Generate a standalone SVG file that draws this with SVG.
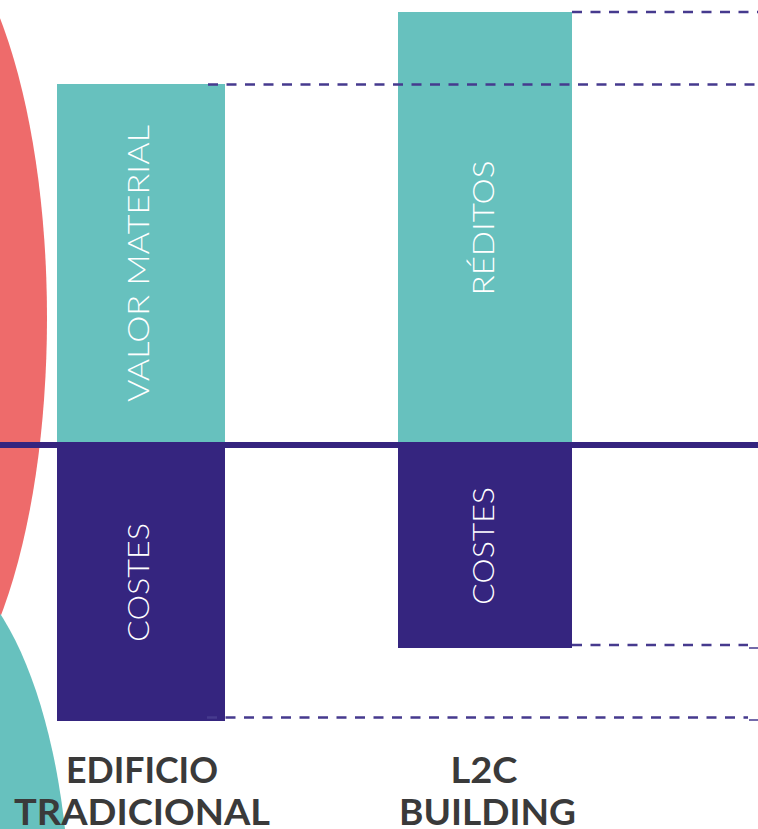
<svg xmlns="http://www.w3.org/2000/svg" width="758" height="829" viewBox="0 0 758 829">
<style>
.teal{fill:#67c1be}
.dark{fill:#35257f}
.dash{stroke:#463a8e;stroke-width:2.6;stroke-dasharray:10 8.5;fill:none}
.barlbl{font-family:Lato,"Open Sans",sans-serif;font-weight:300;font-size:29px;fill:#ffffff;text-anchor:middle}
.title{font-family:Lato,"Noto Sans",sans-serif;font-weight:700;font-size:36px;fill:#3a3a3a;text-anchor:middle}
</style>
<rect width="758" height="829" fill="#ffffff"/>
<g id="decor">
<ellipse cx="-100" cy="318" rx="147" ry="409" fill="#ee6b6b"/>
<ellipse cx="-80" cy="923" rx="150" ry="366" fill="#67c1be"/>
</g>
<g id="edificio-tradicional">
<rect id="valor-material" class="teal" x="57" y="84" width="168" height="360"/>
<rect id="costes-1" class="dark" x="57" y="442" width="168" height="279"/>
<text class="barlbl" transform="translate(149,263.5) rotate(-90)" textLength="277" lengthAdjust="spacingAndGlyphs">VALOR MATERIAL</text>
<text class="barlbl" transform="translate(149,582.5) rotate(-90)" textLength="119" lengthAdjust="spacingAndGlyphs">COSTES</text>
<text class="title" x="142" y="783" textLength="152" lengthAdjust="spacingAndGlyphs">EDIFICIO</text>
<text class="title" x="142" y="825" textLength="256" lengthAdjust="spacingAndGlyphs">TRADICIONAL</text>
</g>
<g id="l2c-building">
<rect id="reditos" class="teal" x="398" y="12" width="174" height="434"/>
<rect id="costes-2" class="dark" x="398" y="443" width="174" height="205"/>
<text class="barlbl" transform="translate(494,228) rotate(-90)" textLength="135" lengthAdjust="spacingAndGlyphs">RÉDITOS</text>
<text class="barlbl" transform="translate(494,546) rotate(-90)" textLength="118" lengthAdjust="spacingAndGlyphs">COSTES</text>
<text class="title" x="484" y="783" textLength="67" lengthAdjust="spacingAndGlyphs">L2C</text>
<text class="title" x="487.5" y="825" textLength="177" lengthAdjust="spacingAndGlyphs">BUILDING</text>
</g>
<g id="connectors">
<line x1="0" y1="445" x2="758" y2="445" stroke="#35247f" stroke-width="6"/>
<line class="dash" x1="572" y1="12" x2="758" y2="12"/>
<line class="dash" x1="208" y1="84.5" x2="758" y2="84.5"/>
<line class="dash" x1="572" y1="645" x2="748" y2="645"/>
<line class="dash" x1="207" y1="717.5" x2="748" y2="717.5"/>
<path d="M749 648H758M749 720H758" stroke="#463a8e" stroke-width="1.5" fill="none"/>
</g>
</svg>
